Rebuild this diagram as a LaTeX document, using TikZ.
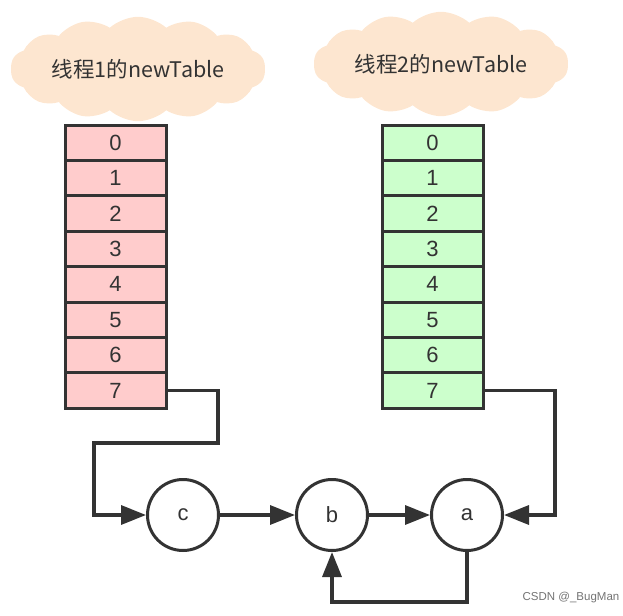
\documentclass[tikz,border=0pt]{standalone}
\usepackage{fontspec}
\setmainfont{Liberation Sans}
\newfontfamily\cjk{Noto Sans CJK SC}
\usetikzlibrary{arrows.meta,shapes.symbols}
\definecolor{lineC}{HTML}{333333}
\definecolor{pinkC}{HTML}{FFCCCC}
\definecolor{greenC}{HTML}{CCFFCC}
\definecolor{cloudC}{HTML}{FDE6D0}
\begin{document}
\begin{tikzpicture}[x=1pt,y=-1pt,
  cellbox/.style={draw=lineC,line width=3pt,rectangle,minimum width=101pt,minimum height=35.4pt,inner sep=0pt,font=\fontsize{22}{24}\selectfont,text=lineC},
  pinkcell/.style={cellbox,fill=pinkC},
  greencell/.style={cellbox,fill=greenC},
  ringnode/.style={draw=lineC,line width=3pt,circle,minimum size=71pt,inner sep=0pt,fill=white,font=\fontsize{22}{24}\selectfont,text=lineC},
  conn/.style={draw=lineC,line width=3.4pt,-{Triangle[length=25pt,width=19pt]}},
  cloudbox/.style={cloud,cloud puffs=14,cloud puff arc=85,aspect=3.0,fill=cloudC,draw=none,minimum width=232pt,minimum height=84pt,font=\fontsize{21.5}{24}\selectfont,text=lineC}
]
\useasboundingbox (0,0) rectangle (623,615);
\node[cloudbox] (cl1) at (138,69) {\cjk 线程1的newTable};
\node[cloudbox] (cl2) at (441,64) {\cjk 线程2的newTable};
\foreach \i in {0,...,7}{
  \node[pinkcell] (L\i) at (115.5,{142.7+35.4*\i}) {\i};
  \node[greencell] (R\i) at (432.5,{142.7+35.4*\i}) {\i};
}
\node[ringnode] (c) at (183,515) {c};
\node[ringnode] (b) at (332,515) {b};
\node[ringnode] (a) at (467,515) {a};
\coordinate (k1) at (218,443);
\coordinate (k2) at (94,443);
\coordinate (k3) at (555,515);
\coordinate (k4) at (400,602);
\draw[conn] (L7.east) -| (k1) -- (k2) |- (c.west);
\draw[conn] (R7.east) -| (k3) -- (a.east);
\draw[conn] (c.east) -- (b.west);
\draw[conn] (b.east) -- (a.west);
\draw[conn] (a.south) |- (k4) -| (b.south);
\node[font=\fontsize{11.5}{13}\selectfont,text=black!55] (wm) at (571,598) {CSDN @\_BugMan};
\end{tikzpicture}
\end{document}
